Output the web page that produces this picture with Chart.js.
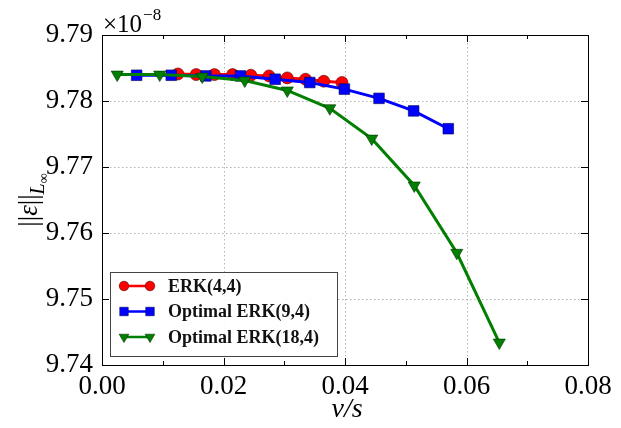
<!DOCTYPE html>
<html>
<head>
<meta charset="utf-8">
<script src="https://cdn.jsdelivr.net/npm/chart.js@4/dist/chart.umd.min.js"></script>
<style>
  html, body { margin: 0; padding: 0; background: #fff; }
  #wrap { width: 621px; height: 428px; }
</style>
</head>
<body>
<div id="wrap"><canvas id="errChart" width="621" height="428"></canvas></div>
<script>
// values, y in units of 1e-8
const erk44X = [0.0125, 0.0155, 0.0185, 0.0215, 0.0245, 0.0275, 0.0305, 0.0335, 0.0365, 0.0395];
const erk44Y = [9.7841, 9.7840, 9.7840, 9.7840, 9.7839, 9.7838, 9.7835, 9.7833, 9.7830, 9.7828];

const erk94X = [0.0057, 0.0114, 0.0171, 0.0228, 0.0285, 0.0342, 0.0399, 0.0456, 0.0513, 0.0570];
const erk94Y = [9.7839, 9.7839, 9.7838, 9.7838, 9.7833, 9.7828, 9.7818, 9.7804, 9.7785, 9.7758];

const erk184X = [0.0025, 0.0095, 0.0165, 0.0235, 0.0305, 0.0375, 0.0444, 0.0514, 0.0584, 0.0654];
const erk184Y = [9.7840, 9.7840, 9.7837, 9.7831, 9.7816, 9.7789, 9.7743, 9.7672, 9.7570, 9.7434];

const seriesLabels = ['ERK(4,4)', 'Optimal ERK(9,4)', 'Optimal ERK(18,4)'];
const xTicks = [0.00, 0.02, 0.04, 0.06, 0.08];
const xMinorTicks = [0.01, 0.03, 0.05, 0.07];
const yTicks = [9.74, 9.75, 9.76, 9.77, 9.78, 9.79];

const SERIF = '"Liberation Serif", "DejaVu Serif", serif';

function toPoints(xs, ys) {
    return xs.map((x, i) => ({ x: x, y: ys[i] }));
}

// frame, dotted grid, inward ticks
const framePlugin = {
    id: 'frame',
    beforeDatasetsDraw(chart) {
        const { ctx, chartArea: a, scales } = chart;
        ctx.save();
        ctx.strokeStyle = '#b4b4b4';
        ctx.lineWidth = 1;
        ctx.setLineDash([1.5, 2.5]);
        xTicks.forEach(v => {
            const px = Math.round(scales.x.getPixelForValue(v)) + 0.5;
            ctx.beginPath(); ctx.moveTo(px, a.top); ctx.lineTo(px, a.bottom); ctx.stroke();
        });
        yTicks.forEach(v => {
            const py = Math.round(scales.y.getPixelForValue(v)) + 0.5;
            ctx.beginPath(); ctx.moveTo(a.left, py); ctx.lineTo(a.right, py); ctx.stroke();
        });
        ctx.restore();
    },
    afterDatasetsDraw(chart) {
        const { ctx, chartArea: a, scales } = chart;
        ctx.save();
        ctx.strokeStyle = '#000';
        ctx.lineWidth = 1;
        ctx.setLineDash([]);
        const tick = (x1, y1, x2, y2) => { ctx.beginPath(); ctx.moveTo(x1, y1); ctx.lineTo(x2, y2); ctx.stroke(); };
        xTicks.forEach(v => {
            const px = Math.round(scales.x.getPixelForValue(v)) + 0.5;
            tick(px, a.bottom, px, a.bottom - 7);
            tick(px, a.top, px, a.top + 7);
        });
        xMinorTicks.forEach(v => {
            const px = Math.round(scales.x.getPixelForValue(v)) + 0.5;
            tick(px, a.bottom, px, a.bottom - 4);
            tick(px, a.top, px, a.top + 4);
        });
        yTicks.forEach(v => {
            const py = Math.round(scales.y.getPixelForValue(v)) + 0.5;
            tick(a.left, py, a.left + 7, py);
            tick(a.right, py, a.right - 7, py);
        });
        ctx.strokeRect(Math.round(a.left) + 0.5, Math.round(a.top) + 0.5,
            Math.round(a.right - a.left), Math.round(a.bottom - a.top));
        ctx.restore();
    }
};

// legend box, axis titles and the offset text
const annotatePlugin = {
    id: 'annotate',
    afterDraw(chart) {
        const { ctx, chartArea: a } = chart;
        ctx.save();

        // legend
        const bx = 110, by = 272, bw = 227, bh = 84;
        ctx.fillStyle = 'rgba(255,255,255,0.9)';
        ctx.fillRect(bx, by, bw, bh);
        ctx.strokeStyle = '#444';
        ctx.lineWidth = 1;
        ctx.strokeRect(bx + 0.5, by + 0.5, bw, bh);
        chart.data.datasets.forEach((ds, i) => {
            const cy = by + 14 + i * 25.5;
            const x1 = bx + 14, x2 = bx + 40;
            ctx.strokeStyle = ds.borderColor;
            ctx.lineWidth = 2.5;
            ctx.beginPath(); ctx.moveTo(x1, cy); ctx.lineTo(x2, cy); ctx.stroke();
            [x1, x2].forEach(px => {
                ctx.fillStyle = ds.pointBackgroundColor;
                ctx.strokeStyle = ds.pointBorderColor;
                ctx.lineWidth = ds.pointBorderWidth;
                Chart.helpers.drawPoint(ctx, {
                    pointStyle: ds.pointStyle,
                    rotation: ds.pointRotation || 0,
                    radius: ds.pointRadius * 0.8,
                    borderWidth: ds.pointBorderWidth
                }, px, cy);
            });
            ctx.fillStyle = '#111';
            ctx.font = 'bold 18px ' + SERIF;
            ctx.textAlign = 'left';
            ctx.textBaseline = 'middle';
            ctx.fillText(ds.label, bx + 58, cy + 1);
        });

        // offset text  x10^-8
        ctx.fillStyle = '#000';
        ctx.textBaseline = 'alphabetic';
        ctx.textAlign = 'left';
        ctx.font = '25px ' + SERIF;
        ctx.fillText('\u00d710', a.left + 1, a.top - 3);
        const w = ctx.measureText('\u00d710').width;
        ctx.font = '17px ' + SERIF;
        ctx.fillText('\u22128', a.left + 2 + w, a.top - 15);

        // x title
        ctx.font = 'italic 28px ' + SERIF;
        ctx.textAlign = 'center';
        ctx.fillText('\u03bd/s', (a.left + a.right) / 2 + 2, 417);

        // y title, rotated
        ctx.translate(37, (a.top + a.bottom) / 2);
        ctx.rotate(-Math.PI / 2);
        ctx.textAlign = 'left';
        const p1 = '||', p2 = '\u03b5', p3 = '||';
        ctx.font = '27px ' + SERIF;
        const w1 = ctx.measureText(p1).width;
        ctx.font = 'italic 27px ' + SERIF;
        const w2 = ctx.measureText(p2).width;
        ctx.font = '27px ' + SERIF;
        const w3 = ctx.measureText(p3).width;
        ctx.font = 'italic 20px ' + SERIF;
        const w4 = ctx.measureText('L').width;
        ctx.font = '14px ' + SERIF;
        const w5 = ctx.measureText('\u221e').width;
        let x0 = -(w1 + w2 + w3 + w4 + w5) / 2;
        ctx.font = '27px ' + SERIF;
        ctx.fillText(p1, x0, 0); x0 += w1;
        ctx.font = 'italic 27px ' + SERIF;
        ctx.fillText(p2, x0, 0); x0 += w2;
        ctx.font = '27px ' + SERIF;
        ctx.fillText(p3, x0, 0); x0 += w3;
        ctx.font = 'italic 20px ' + SERIF;
        ctx.fillText('L', x0, 7); x0 += w4;
        ctx.font = '14px ' + SERIF;
        ctx.fillText('\u221e', x0, 11);
        ctx.restore();
    }
};

const ctx = document.getElementById('errChart').getContext('2d');
new Chart(ctx, {
    type: 'line',
    data: {
        datasets: [{
            label: seriesLabels[0],
            data: toPoints(erk44X, erk44Y),
            borderColor: '#ff0000',
            borderWidth: 3,
            pointStyle: 'circle',
            pointRadius: 6,
            pointBackgroundColor: '#ff0000',
            pointBorderColor: '#550000',
            pointBorderWidth: 0.6,
            order: 3
        }, {
            label: seriesLabels[1],
            data: toPoints(erk94X, erk94Y),
            borderColor: '#0000ff',
            borderWidth: 3,
            pointStyle: 'rect',
            pointRadius: 7.5,
            pointBackgroundColor: '#0000ff',
            pointBorderColor: '#000055',
            pointBorderWidth: 0.6,
            order: 2
        }, {
            label: seriesLabels[2],
            data: toPoints(erk184X, erk184Y),
            borderColor: '#007f00',
            borderWidth: 3,
            pointStyle: 'triangle',
            pointRotation: 180,
            pointRadius: 7,
            pointBackgroundColor: '#007f00',
            pointBorderColor: '#003300',
            pointBorderWidth: 0.6,
            order: 1
        }]
    },
    options: {
        responsive: false,
        animation: false,
        layout: { padding: { top: 35, right: 33, left: 0, bottom: 0 } },
        plugins: { legend: { display: false }, tooltip: { enabled: false } },
        scales: {
            x: {
                type: 'linear',
                min: 0, max: 0.08,
                afterFit(scale) { scale.height = 63; },
                afterBuildTicks(scale) { scale.ticks = xTicks.map(v => ({ value: v })); },
                grid: { display: false, drawTicks: false },
                border: { display: false },
                ticks: {
                    padding: 6,
                    color: '#000',
                    font: { family: SERIF, size: 27 },
                    callback: v => v.toFixed(2)
                }
            },
            y: {
                type: 'linear',
                min: 9.74, max: 9.79,
                afterFit(scale) { scale.width = 102; },
                afterBuildTicks(scale) { scale.ticks = yTicks.map(v => ({ value: v })); },
                grid: { display: false, drawTicks: false },
                border: { display: false },
                ticks: {
                    padding: 9,
                    color: '#000',
                    font: { family: SERIF, size: 27 },
                    callback: v => v.toFixed(2)
                }
            }
        }
    },
    plugins: [framePlugin, annotatePlugin]
});
</script>
</body>
</html>
